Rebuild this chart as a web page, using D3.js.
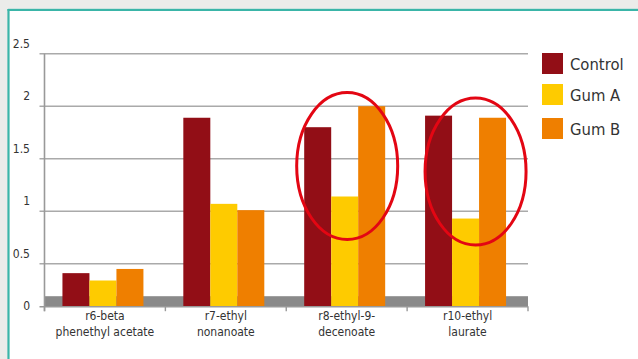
<!doctype html>
<html>
<head>
<meta charset="utf-8">
<script src="https://d3js.org/d3.v7.min.js"></script>
<style>
  body { margin: 0; background: #ebecea; }
  svg text { font-family: "Liberation Sans Narrow", "Arial Narrow", "DejaVu Sans Condensed", sans-serif; fill: #333; }
</style>
</head>
<body>
<svg width="638" height="359"></svg>
<script>
// data
var categories = ["r6-beta|phenethyl acetate", "r7-ethyl|nonanoate", "r8-ethyl-9-|decenoate", "r10-ethyl|laurate"];
var seriesNames = ["Control", "Gum A", "Gum B"];
var control = [0.41, 1.89, 1.80, 1.91];
var gumA = [0.34, 1.07, 1.14, 0.93];
var gumB = [0.45, 1.01, 2.00, 1.89];
var yTicks = [0, 0.5, 1, 1.5, 2, 2.5];
var highlighted = ["r8-ethyl-9-|decenoate", "r10-ethyl|laurate"];

var colors = ["#920e16", "#fecb00", "#ef7f00"];
var values = [control, gumA, gumB];

var svg = d3.select("svg");

// panel with teal border on top and left
svg.append("rect").attr("x", 8).attr("y", 10).attr("width", 630).attr("height", 349).attr("fill", "#fff");
svg.append("line").attr("x1", 8).attr("x2", 638).attr("y1", 8.5).attr("y2", 8.5).attr("stroke", "#c9e3df").attr("stroke-width", 1);
svg.append("line").attr("x1", 7.5).attr("x2", 638).attr("y1", 10).attr("y2", 10).attr("stroke", "#3ab5a8").attr("stroke-width", 2.2);
svg.append("line").attr("x1", 8.5).attr("x2", 8.5).attr("y1", 9).attr("y2", 359).attr("stroke", "#3ab5a8").attr("stroke-width", 2.2);

var left = 44.5, right = 528, depth = 10;

var x = d3.scaleBand().domain(categories).range([left, right]).paddingInner(0.33).paddingOuter(0.165);
var xs = d3.scaleBand().domain(seriesNames).range([0, x.bandwidth()]);
var y = d3.scaleLinear().domain([0, 2.5]).range([316.2, 53.7]);
var floorY = y(0) - depth;

// gridlines (back wall)
svg.append("g").selectAll("line").data(yTicks.filter(function(d) { return d > 0; }))
  .enter().append("line")
  .attr("x1", left - 5).attr("x2", right)
  .attr("y1", function(d) { return y(d); }).attr("y2", function(d) { return y(d); })
  .attr("stroke", "#aaa").attr("stroke-width", 1.4);

// floor
svg.append("rect").attr("x", left).attr("y", floorY - depth).attr("width", right - left).attr("height", depth)
  .attr("fill", "#8a8a8a");

// y axis line
svg.append("line").attr("x1", left).attr("x2", left).attr("y1", y(2.5)).attr("y2", floorY + 5)
  .attr("stroke", "#999").attr("stroke-width", 1.6);
// y labels (front plane)
svg.append("g").selectAll("text").data(yTicks).enter().append("text")
  .attr("x", 30).attr("y", function(d) { return y(d) - depth; }).attr("dy", "0.35em")
  .attr("text-anchor", "end").attr("font-size", 12)
  .text(function(d) { return d; });

// bars
var groups = svg.append("g").selectAll("g").data(categories).enter().append("g")
  .attr("transform", function(d) { return "translate(" + (x(d) - 2) + ",0)"; });
groups.selectAll("rect").data(function(d, i) {
    return seriesNames.map(function(s, j) { return { s: s, v: values[j][i], c: colors[j] }; });
  })
  .enter().append("rect")
  .attr("x", function(d) { return xs(d.s); })
  .attr("width", xs.bandwidth())
  .attr("y", function(d) { return y(d.v); })
  .attr("height", function(d) { return floorY - y(d.v); })
  .attr("fill", function(d) { return d.c; });

// x axis
svg.append("line").attr("x1", left - 5).attr("x2", right).attr("y1", floorY + 0.5).attr("y2", floorY + 0.5)
  .attr("stroke", "#999").attr("stroke-width", 1.6);
var step = x.step();
svg.append("g").selectAll("line").data(d3.range(categories.length + 1)).enter().append("line")
  .attr("x1", function(i) { return left + i * step; }).attr("x2", function(i) { return left + i * step; })
  .attr("y1", floorY).attr("y2", floorY + 5)
  .attr("stroke", "#999").attr("stroke-width", 1.4);

svg.append("g").selectAll("text").data(categories).enter().append("text")
  .attr("x", function(d) { return x(d) + x.bandwidth() / 2; })
  .attr("y", floorY + 14).attr("text-anchor", "middle").attr("font-size", 12)
  .each(function(d) {
    var t = d3.select(this);
    d.split("|").forEach(function(part, k) {
      t.append("tspan").attr("x", x(d) + x.bandwidth() / 2).attr("dy", k === 0 ? 0 : 15.5).text(part);
    });
  });

// highlight ellipses
svg.append("g").selectAll("ellipse").data(highlighted).enter().append("ellipse")
  .attr("cx", function(d, i) { return x(d) + x.bandwidth() / 2 + [0.5, 8][i]; })
  .attr("cy", function(d, i) { return y(1.43) + i * 5.5; })
  .attr("rx", 50.5).attr("ry", 73.5)
  .attr("fill", "none").attr("stroke", "#e30613").attr("stroke-width", 3);

// legend
var legend = svg.append("g").selectAll("g").data(seriesNames).enter().append("g")
  .attr("transform", function(d, i) { return "translate(542," + [53, 84, 118][i] + ")"; });
legend.append("rect").attr("width", 21).attr("height", 21).attr("fill", function(d, i) { return colors[i]; });
legend.append("text").attr("x", 28).attr("y", 11).attr("dy", "0.35em").attr("font-size", 16.5)
  .text(function(d) { return d; });
</script>
</body>
</html>
